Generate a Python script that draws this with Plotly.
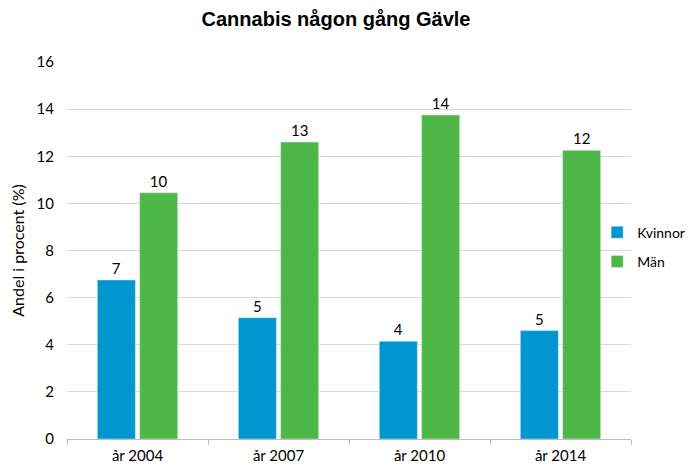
import plotly.graph_objects as go

categories = ["år 2004", "år 2007", "år 2010", "år 2014"]
kvinnor = [6.75, 5.15, 4.15, 4.6]
man = [10.45, 12.6, 13.75, 12.25]

FONT = "Lato, Carlito, Open Sans, sans-serif"

fig = go.Figure()
fig.add_trace(go.Bar(x=categories, y=kvinnor, name="Kvinnor", marker_color="#0096CF",
                     legendgroup="k",
                     texttemplate="%{y:.0f}", textposition="outside",
                     textfont=dict(size=15, color="#000000", family=FONT), cliponaxis=False))
fig.add_trace(go.Bar(x=categories, y=man, name="Män", marker_color="#4DB848",
                     legendgroup="m",
                     texttemplate="%{y:.0f}", textposition="outside",
                     textfont=dict(size=15, color="#000000", family=FONT), cliponaxis=False))

fig.update_layout(
    width=687, height=461,
    margin=dict(l=59, r=64, t=54, b=30, autoexpand=False),
    paper_bgcolor="white", plot_bgcolor="white",
    font=dict(family=FONT, size=15, color="#000000"),
    title=dict(text="<b>Cannabis någon gång Gävle</b>", xref="paper", x=0.477, xanchor="center",
               yref="container", y=0.976, yanchor="middle",
               font=dict(family="Liberation Sans, Arial, sans-serif", size=20, color="#000000")),
    barmode="group", bargap=0.4, bargroupgap=0.1,
    legend=dict(x=0.94, xanchor="left", y=0.509, yanchor="middle",
                bgcolor="rgba(0,0,0,0)",
                font=dict(size=14, family=FONT), itemwidth=30, tracegroupgap=8),
    xaxis=dict(showline=True, linecolor="#BFBFBF", ticks="outside", tickson="boundaries",
               ticklen=5, tickcolor="#BFBFBF", showgrid=False, ticklabelstandoff=3,
               tickfont=dict(size=15)),
    yaxis=dict(range=[0, 16], dtick=2, showgrid=True, gridcolor="#D9D9D9",
               zeroline=False, showline=False, ticks="", ticklabelstandoff=12,
               title=dict(text="Andel i procent (%)", font=dict(size=16), standoff=8),
               tickfont=dict(size=15)),
    showlegend=True,
)

fig.write_html("out.html")
